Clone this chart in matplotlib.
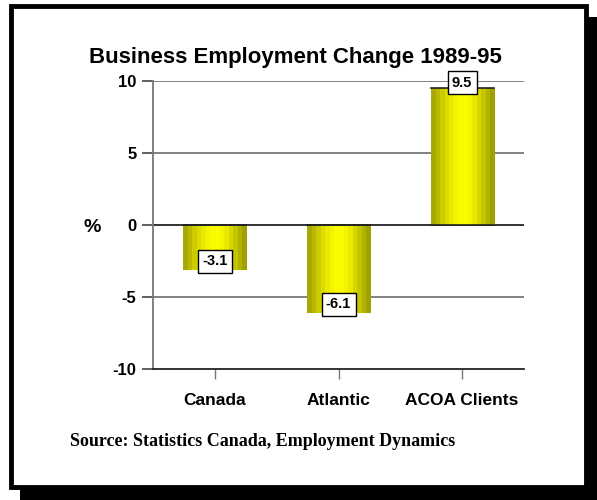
import matplotlib
matplotlib.use("Agg")
import matplotlib.pyplot as plt
import numpy as np
from matplotlib.patches import Rectangle
from matplotlib.colors import LinearSegmentedColormap

categories = ["Canada", "Atlantic", "ACOA Clients"]
values = [-3.1, -6.1, 9.5]
value_labels = ["-3.1", "-6.1", "9.5"]
yticks = [-10, -5, 0, 5, 10]

W, H = 597, 500
fig = plt.figure(figsize=(W / 100, H / 100), dpi=100)


def px(x, y):
    return x / W, 1 - y / H


# shadow and framed panel
x0, y0 = px(20, 500)
fig.patches.append(Rectangle((x0, y0), (597 - 20) / W, (500 - 17) / H,
                             transform=fig.transFigure, facecolor="black",
                             edgecolor="none", zorder=0))
x0, y0 = px(11, 487)
fig.patches.append(Rectangle((x0, y0), (586 - 11) / W, (487 - 6) / H,
                             transform=fig.transFigure, facecolor="white",
                             edgecolor="black", linewidth=3.5, zorder=1))

left, right, top, bottom = 153, 524, 81, 369
ax = fig.add_axes([left / W, 1 - bottom / H, (right - left) / W, (bottom - top) / H])
ax.set_facecolor("none")
ax.set_zorder(2)

x = np.arange(len(categories))
bar_w = 0.51
bars = ax.bar(x, values, width=bar_w, facecolor="none", edgecolor="none", zorder=3)

# banded cylinder shading
shade = LinearSegmentedColormap.from_list(
    "cyl", ["#a8a800", "#d0d000", "#f0f000", "#ffff00", "#f0f000", "#c8c800", "#a0a000"])
grad = np.linspace(0, 1, 14).reshape(1, -1)
for b in bars:
    bx, by = b.get_x(), b.get_y()
    bw, bh = b.get_width(), b.get_height()
    im = ax.imshow(grad, cmap=shade, aspect="auto", interpolation="nearest",
                   extent=[bx, bx + bw, by, by + bh], zorder=3)
    im.set_clip_path(b)
    end = by + bh if b.get_height() > 0 else by
    ax.plot([bx, bx + bw], [end, end], color="#222222", lw=1.2, zorder=4)
    ax.plot([bx, bx + bw], [0, 0], color="#222222", lw=1.2, zorder=4)

ax.set_xlim(-0.5, len(categories) - 0.5)
ax.set_ylim(-10, 10)

for yv in yticks[1:]:
    ax.axhline(yv, color="#777777" if yv != 0 else "#222222", lw=1.3, zorder=1)

for s in ["top", "right"]:
    ax.spines[s].set_visible(False)
ax.spines["left"].set_color("#777777")
ax.spines["left"].set_linewidth(1.3)
ax.spines["bottom"].set_color("#222222")
ax.spines["bottom"].set_linewidth(1.3)

ax.set_yticks(yticks)
ax.set_yticklabels([str(t) for t in yticks], fontfamily="Liberation Sans",
                   fontweight="bold", fontsize=12)
ax.tick_params(axis="y", direction="out", length=8, width=1.2, color="#444444", pad=4)
ax.set_xticks(x)
ax.set_xticklabels(categories, fontfamily="Liberation Sans", fontweight="bold", fontsize=12.5)
ax.tick_params(axis="x", direction="out", length=7, width=1.0, color="#777777", pad=10)

for xi, v, lab in zip(x, values, value_labels):
    if v > 0:
        off, va = 4, "center"
    else:
        off, va = 1, "bottom"
    ax.annotate(lab, (xi, v), xytext=(0, off), textcoords="offset points",
                ha="center", va=va, fontfamily="Liberation Sans", fontweight="bold",
                fontsize=10.5, zorder=6,
                bbox=dict(boxstyle="square,pad=0.3", facecolor="white",
                          edgecolor="black", linewidth=1))

tx, ty = px(295, 57)
fig.text(tx, ty, "Business Employment Change 1989-95", ha="center", va="center",
         fontfamily="Liberation Sans", fontweight="bold", fontsize=16, zorder=5)
tx, ty = px(92, 228)
fig.text(tx, ty, "%", ha="center", va="center", fontfamily="Liberation Sans",
         fontweight="bold", fontsize=14, zorder=5)
tx, ty = px(70, 441)
fig.text(tx, ty, "Source: Statistics Canada, Employment Dynamics", ha="left", va="center",
         fontfamily="Liberation Serif", fontweight="bold", fontsize=13, zorder=5)

fig.savefig("out.png", dpi=100)
